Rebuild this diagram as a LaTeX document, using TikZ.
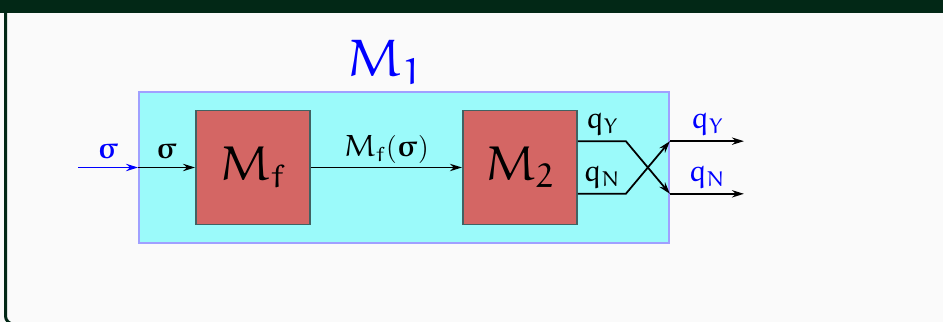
\documentclass[tikz,border=0pt,11pt]{standalone}
\usepackage{amsmath}
\usepackage{amsfonts}
\usepackage{xcolor}
\DeclareMathAlphabet{\eu}{U}{eur}{m}{n}
\DeclareSymbolFont{eulerbold}{U}{eur}{b}{n}
\DeclareMathSymbol{\bsig}{\mathord}{eulerbold}{"1B}
\definecolor{headgreen}{RGB}{2, 40, 22}
\definecolor{bodygray}{RGB}{250, 250, 250}
\definecolor{machcyan}{RGB}{155, 250, 250}
\definecolor{machedge}{RGB}{160, 160, 255}
\definecolor{boxred}{RGB}{212, 102, 100}
\definecolor{boxedge}{RGB}{65, 98, 98}
\usetikzlibrary{arrows.meta, positioning, calc}

\begin{document}
\begin{tikzpicture}[>={Stealth[length=1.8mm, width=1.1mm]}, font=\fontsize{13}{16}\selectfont]

        % Moldura do bloco (cabeçalho cortado)
        \clip (0,0) rectangle (14.145,-4.83);
        \fill[bodygray] (0,0) rectangle (14.145,-4.83);
        \fill[headgreen] (0,0) rectangle (14.145,-0.19);
        \draw[headgreen, line width=0.045cm, rounded corners=0.12cm] (0.0825,-0.1) -- (0.0825,-4.86) -- (14.3,-4.86);

        % Definição dos estilos visuais dos blocos
        \tikzstyle{machine} = [rectangle, draw=machedge, fill=machcyan, thick, minimum width=7.95cm, minimum height=2.265cm]
        \tikzstyle{block} = [rectangle, draw=boxedge, fill=boxred, thick, minimum size=1.71cm, font=\huge]
        \tikzstyle{wire} = [->, line width=0.75pt]
        \tikzstyle{qlabel} = [above, inner sep=2.5pt]

        % Máquina externa e sub-máquinas
        \node [machine] (M1) at (6.06,-2.5125) {};
        \node [anchor=base, text=blue, font=\fontsize{22.4}{27}\selectfont] (M1label) at ($(M1.north)+(-0.285,0.225)$) {$\eu{M}_{\eu{1}}$};
        \node [block, right=0.855cm of M1.west] (Mf) {$\eu{M}_{\eu{f}}$};
        \node [block, right=2.265cm of Mf] (M2) {$\eu{M}_{\eu{2}}$};

        % Pontos de entrada e saída
        \coordinate [left=0.9cm of M1.west] (in);
        \coordinate (outY) at ($(M1.east)+(0,0.395)$);
        \coordinate (outN) at ($(M1.east)+(0,-0.395)$);
        \coordinate [right=1.11cm of outY] (endY);
        \coordinate [right=1.11cm of outN] (endN);

        % ---------------------------------------------------------
        % Ligações
        % ---------------------------------------------------------
        \draw [wire, blue] (in) -- node[above] (sigin) {$\bsig$} (M1.west);
        \draw [wire] (M1.west) -- node[above] (sigf) {$\bsig$} (Mf);
        \draw [wire] (Mf) -- node[above, inner sep=1.3pt] (fsig) {$\eu{M}_{\eu{f}}(\bsig)$} (M2);

        % Saídas cruzadas de M2
        \draw [wire] ($(M2.east)+(0,0.395)$) -- node[qlabel] (qYin) {$\eu{q}_{\eu{Y}}$} ++(0.72,0) -- (outN);
        \draw [wire] ($(M2.east)+(0,-0.395)$) -- node[qlabel] (qNin) {$\eu{q}_{\eu{N}}$} ++(0.72,0) -- (outY);
        \draw [wire] (outY) -- node[qlabel, text=blue] (qYout) {$\eu{q}_{\eu{Y}}$} (endY);
        \draw [wire] (outN) -- node[qlabel, text=blue] (qNout) {$\eu{q}_{\eu{N}}$} (endN);
    \end{tikzpicture}
\end{document}
